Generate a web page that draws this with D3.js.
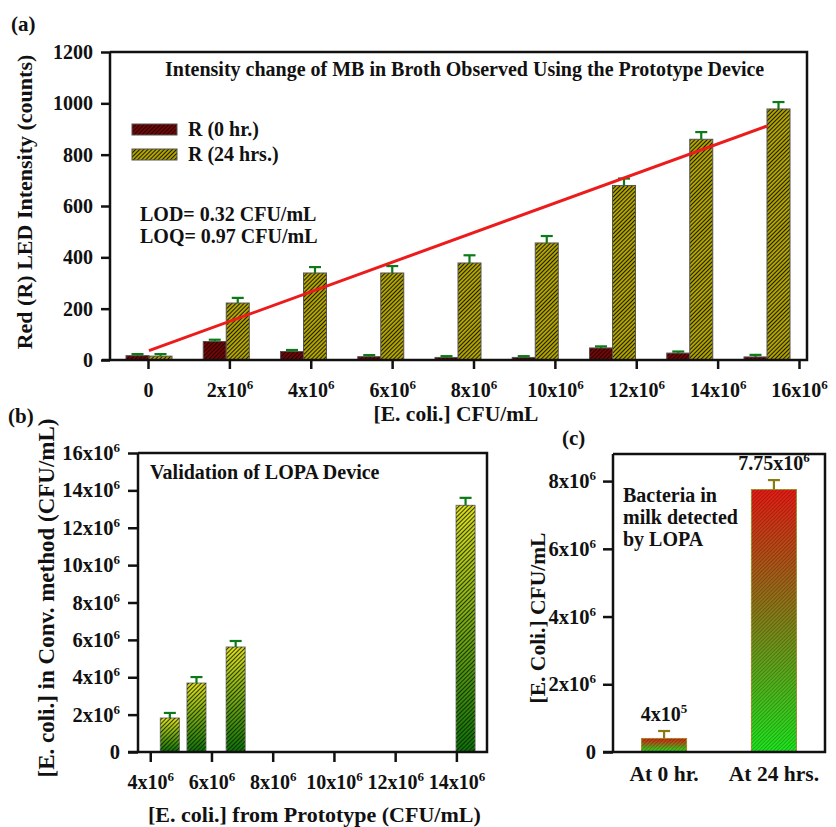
<!DOCTYPE html>
<html>
<head>
<meta charset="utf-8">
<script src="https://cdn.jsdelivr.net/npm/d3@7/dist/d3.min.js"></script>
<style>
  body { margin: 0; background: #fff; }
  text { font-family: "Liberation Serif", "Times New Roman", serif; font-weight: bold; fill: #111; }
</style>
</head>
<body>
<script>
// #region DATA
// (a) intensity vs concentration
var concCats = [0, 2e6, 4e6, 6e6, 8e6, 10e6, 12e6, 14e6, 16e6];
var r0 = [17, 72, 33, 13, 10, 10, 47, 27, 12];
var r0Err = [6, 7, 6, 6, 5, 5, 6, 6, 8];
var r24 = [15, 222, 339, 339, 378, 456, 680, 860, 978];
var r24Err = [8, 20, 23, 27, 30, 27, 27, 28, 27];
var aYTicks = [0, 200, 400, 600, 800, 1000, 1200];

// (b) validation
var protoX = [4.64e6, 5.51e6, 6.79e6, 14.3e6];
var convY = [1.82e6, 3.69e6, 5.62e6, 13.2e6];
var convErr = [0.27e6, 0.32e6, 0.32e6, 0.4e6];
var bXTicks = [4e6, 6e6, 8e6, 10e6, 12e6, 14e6];
var bYTicks = [0, 2e6, 4e6, 6e6, 8e6, 10e6, 12e6, 14e6, 16e6];

// (c) milk
var milkCats = ["At 0 hr.", "At 24 hrs."];
var milkVals = [4e5, 7.75e6];
var milkErr = [0.22e6, 0.28e6];
var milkLabels = [["4x10", "5"], ["7.75x10", "6"]];
var cYTicks = [0, 2e6, 4e6, 6e6, 8e6];
// #endregion

var svg = d3.select("body").append("svg")
    .attr("width", 836)
    .attr("height", 827);

var defs = svg.append("defs");

function hatch(id, bg, line, size, lw, op) {
    var p = defs.append("pattern")
        .attr("id", id)
        .attr("patternUnits", "userSpaceOnUse")
        .attr("width", size)
        .attr("height", size)
        .attr("patternTransform", "rotate(45)");
    if (bg) p.append("rect").attr("width", size).attr("height", size).attr("fill", bg);
    p.append("line")
        .attr("x1", size / 2).attr("y1", 0)
        .attr("x2", size / 2).attr("y2", size)
        .attr("stroke", line)
        .attr("stroke-width", lw)
        .attr("stroke-opacity", op);
}
hatch("hatch-red", "#7c0a0a", "#2a0000", 2.9, 1.3, 1);
hatch("hatch-yel", "#c4b400", "#1a1a00", 2.9, 1.2, 1);
hatch("hatch-b", null, "#102000", 3, 1.1, 0.85);
hatch("hatch-c", null, "#000", 2.6, 0.9, 0.25);

function grad(id, top, bottom) {
    var g = defs.append("linearGradient")
        .attr("id", id)
        .attr("x1", 0).attr("y1", 0).attr("x2", 0).attr("y2", 1);
    g.append("stop").attr("offset", "0%").attr("stop-color", top);
    g.append("stop").attr("offset", "100%").attr("stop-color", bottom);
}
grad("grad-b", "#e8e41c", "#08740a");
grad("grad-c", "#e41c14", "#1ee41e");

// superscript tick text
function sciText(sel, base, exp, supSize) {
    sel.text(null);
    sel.append("tspan").text(base);
    if (exp) {
        sel.append("tspan").attr("dy", -8).attr("font-size", supSize || 13).text(exp);
    }
}
function fmt6(v) {
    return v === 0 ? ["0", null] : [(v / 1e6) + "x10", "6"];
}

function styleAxis(g) {
    g.select(".domain").remove();
    g.selectAll(".tick line").attr("stroke", "#111").attr("stroke-width", 2.5);
    g.selectAll(".tick text").attr("font-size", 20).attr("fill", "#111")
        .attr("font-family", "'Liberation Serif', serif").attr("font-weight", "bold");
}

function frame(x0, x1, y0, y1, extendLeft) {
    svg.append("path")
        .attr("d", "M" + x0 + "," + y0 + "H" + x1 + "V" + y1 + "H" + (x0 - extendLeft) + "M" + x0 + "," + y1 + "V" + y0)
        .attr("fill", "none")
        .attr("stroke", "#111")
        .attr("stroke-width", 2.5);
}

// #region PANEL A
var ax = d3.scaleLinear().domain([0, 16e6]).range([148, 799]);
var aCat = d3.scalePoint().domain(concCats).range([149, 767]);
var ay = d3.scaleLinear().domain([0, 1200]).range([360, 52]);
var barW = 23;

svg.append("g")
    .attr("transform", "translate(110,0)")
    .call(d3.axisLeft(ay).tickValues(aYTicks).tickFormat(d3.format("d")).tickSize(9).tickPadding(8))
    .call(styleAxis);

svg.append("g")
    .attr("transform", "translate(0,360)")
    .call(d3.axisBottom(ax).tickValues(concCats).tickSize(9).tickPadding(14))
    .call(styleAxis)
    .selectAll(".tick text")
    .each(function(d) { var f = fmt6(d); sciText(d3.select(this), f[0], f[1], 13); });

var barsA = svg.append("g");
barsA.selectAll("rect.r0")
    .data(concCats)
    .enter().append("rect")
    .attr("x", d => aCat(d) - barW)
    .attr("y", (d, i) => ay(r0[i]))
    .attr("width", barW)
    .attr("height", (d, i) => ay(0) - ay(r0[i]))
    .attr("fill", "url(#hatch-red)")
    .attr("stroke", "#555")
    .attr("stroke-width", 1);

barsA.selectAll("rect.r24")
    .data(concCats)
    .enter().append("rect")
    .attr("x", d => aCat(d))
    .attr("y", (d, i) => ay(r24[i]))
    .attr("width", barW)
    .attr("height", (d, i) => ay(0) - ay(r24[i]))
    .attr("fill", "url(#hatch-yel)")
    .attr("stroke", "#555")
    .attr("stroke-width", 1);

function errBars(g, xs, ys, es, yScale, color, cap) {
    var e = g.append("g").attr("stroke", color).attr("stroke-width", 2.2);
    xs.forEach(function(x, i) {
        e.append("line").attr("x1", x).attr("x2", x)
            .attr("y1", yScale(ys[i])).attr("y2", yScale(ys[i] + es[i]));
        e.append("line").attr("x1", x - cap).attr("x2", x + cap)
            .attr("y1", yScale(ys[i] + es[i])).attr("y2", yScale(ys[i] + es[i]));
    });
}
errBars(svg, concCats.map(d => aCat(d) - barW / 2), r0, r0Err, ay, "#0c7a18", 6);
errBars(svg, concCats.map(d => aCat(d) + barW / 2), r24, r24Err, ay, "#0c7a18", 6);

// linear fit of the 24 hr values
var n = r24.length;
var mx = d3.mean(r24, (d, i) => i);
var my = d3.mean(r24);
var slope = d3.sum(r24, (d, i) => (i - mx) * (d - my)) / d3.sum(r24, (d, i) => (i - mx) * (i - mx));
var icpt = my - slope * mx;
svg.append("line")
    .attr("x1", aCat(concCats[0]))
    .attr("y1", ay(icpt))
    .attr("x2", aCat(concCats[n - 1]))
    .attr("y2", ay(icpt + slope * (n - 1)))
    .attr("stroke", "#ec1c1c")
    .attr("stroke-width", 3);

frame(110, 807, 52, 360, 8);

svg.append("text").attr("x", 11).attr("y", 31).attr("font-size", 21).text("(a)");
svg.append("text").attr("x", 165).attr("y", 76).attr("font-size", 20)
    .text("Intensity change of MB in Broth Observed Using the Prototype Device");

var legend = svg.append("g");
[["hatch-red", "R (0 hr.)"], ["hatch-yel", "R (24 hrs.)"]].forEach(function(l, i) {
    legend.append("rect")
        .attr("x", 132).attr("y", 124 + i * 25)
        .attr("width", 45).attr("height", 11)
        .attr("fill", "url(#" + l[0] + ")")
        .attr("stroke", "#555");
    legend.append("text")
        .attr("x", 188).attr("y", 136 + i * 25)
        .attr("font-size", 20)
        .text(l[1]);
});

svg.append("text").attr("x", 140).attr("y", 221).attr("font-size", 20).text("LOD= 0.32 CFU/mL");
svg.append("text").attr("x", 140).attr("y", 243).attr("font-size", 20).text("LOQ= 0.97 CFU/mL");

svg.append("text")
    .attr("transform", "translate(32,202) rotate(-90)")
    .attr("text-anchor", "middle")
    .attr("font-size", 22)
    .text("Red (R) LED Intensity (counts)");

svg.append("text")
    .attr("x", 456).attr("y", 421)
    .attr("text-anchor", "middle")
    .attr("font-size", 21.5)
    .text("[E. coli.] CFU/mL");
// #endregion

// #region PANEL B
var bx = d3.scaleLinear().domain([3.6e6, 15e6]).range([138, 487]);
var by = d3.scaleLinear().domain([0, 16e6]).range([752, 453]);
var bW = 19;

svg.append("g")
    .attr("transform", "translate(138,0)")
    .call(d3.axisLeft(by).tickValues(bYTicks).tickSize(10).tickPadding(8))
    .call(styleAxis)
    .selectAll(".tick text")
    .attr("font-size", 20.5)
    .each(function(d) { var f = fmt6(d); sciText(d3.select(this), f[0], f[1], 13); });

svg.append("g")
    .attr("transform", "translate(0,752)")
    .call(d3.axisBottom(bx).tickValues(bXTicks).tickSize(10).tickPadding(13))
    .call(styleAxis)
    .selectAll(".tick text")
    .each(function(d) { var f = fmt6(d); sciText(d3.select(this), f[0], f[1], 13); });

var barsB = svg.append("g");
barsB.selectAll("rect.g")
    .data(protoX)
    .enter().append("rect")
    .attr("x", d => bx(d) - bW / 2)
    .attr("y", (d, i) => by(convY[i]))
    .attr("width", bW)
    .attr("height", (d, i) => by(0) - by(convY[i]))
    .attr("fill", "url(#grad-b)")
    .attr("stroke", "#777")
    .attr("stroke-width", 1);
barsB.selectAll("rect.h")
    .data(protoX)
    .enter().append("rect")
    .attr("x", d => bx(d) - bW / 2)
    .attr("y", (d, i) => by(convY[i]))
    .attr("width", bW)
    .attr("height", (d, i) => by(0) - by(convY[i]))
    .attr("fill", "url(#hatch-b)");
errBars(svg, protoX.map(d => bx(d)), convY, convErr, by, "#0c7a18", 6);

frame(138, 487, 453, 752, 10);

svg.append("text").attr("x", 8).attr("y", 423).attr("font-size", 21).text("(b)");
svg.append("text").attr("x", 150).attr("y", 479).attr("font-size", 20).text("Validation of LOPA Device");
svg.append("text")
    .attr("transform", "translate(54,598) rotate(-90)")
    .attr("text-anchor", "middle")
    .attr("font-size", 23)
    .text("[E. coli.] in Conv. method (CFU/mL)");
svg.append("text")
    .attr("x", 148).attr("y", 822)
    .attr("font-size", 22)
    .text("[E. coli.] from Prototype (CFU/mL)");
// #endregion

// #region PANEL C
var cx = d3.scaleBand().domain(milkCats).range([613, 825]).paddingInner(0.59).paddingOuter(0.26);
var cy = d3.scaleLinear().domain([0, 8.8e6]).range([752, 454]);

svg.append("g")
    .attr("transform", "translate(613,0)")
    .call(d3.axisLeft(cy).tickValues(cYTicks).tickSize(10).tickPadding(7))
    .call(styleAxis)
    .selectAll(".tick text")
    .attr("font-size", 20.5)
    .each(function(d) { var f = fmt6(d); sciText(d3.select(this), f[0], f[1], 13); });

svg.append("g")
    .attr("transform", "translate(0,752)")
    .call(d3.axisBottom(cx).tickSize(0).tickPadding(14))
    .call(styleAxis)
    .selectAll(".tick text")
    .attr("font-size", 21.5);

var barsC = svg.append("g");
barsC.selectAll("rect.g")
    .data(milkCats)
    .enter().append("rect")
    .attr("x", d => cx(d))
    .attr("y", (d, i) => cy(milkVals[i]))
    .attr("width", cx.bandwidth())
    .attr("height", (d, i) => cy(0) - cy(milkVals[i]))
    .attr("fill", "url(#grad-c)")
    .attr("stroke", "#a09030")
    .attr("stroke-width", 1);
barsC.selectAll("rect.h")
    .data(milkCats)
    .enter().append("rect")
    .attr("x", d => cx(d))
    .attr("y", (d, i) => cy(milkVals[i]))
    .attr("width", cx.bandwidth())
    .attr("height", (d, i) => cy(0) - cy(milkVals[i]))
    .attr("fill", "url(#hatch-c)");
errBars(svg, milkCats.map(d => cx(d) + cx.bandwidth() / 2), milkVals, milkErr, cy, "#8a7a14", 6);

svg.selectAll("text.val")
    .data(milkCats)
    .enter().append("text")
    .attr("x", d => cx(d) + cx.bandwidth() / 2)
    .attr("y", (d, i) => cy(milkVals[i] + milkErr[i]) - 10)
    .attr("text-anchor", "middle")
    .attr("font-size", 20)
    .each(function(d, i) { sciText(d3.select(this), milkLabels[i][0], milkLabels[i][1], 13); });

frame(613, 825, 454, 752, 10);

svg.append("text").attr("x", 562).attr("y", 445).attr("font-size", 21).text("(c)");
["Bacteria in", "milk detected", "by LOPA"].forEach(function(t, i) {
    svg.append("text").attr("x", 623).attr("y", 502 + i * 22).attr("font-size", 20).text(t);
});
svg.append("text")
    .attr("transform", "translate(545,618) rotate(-90)")
    .attr("text-anchor", "middle")
    .attr("font-size", 21.5)
    .text("[E. Coli.] CFU/mL");
// #endregion
</script>
</body>
</html>
